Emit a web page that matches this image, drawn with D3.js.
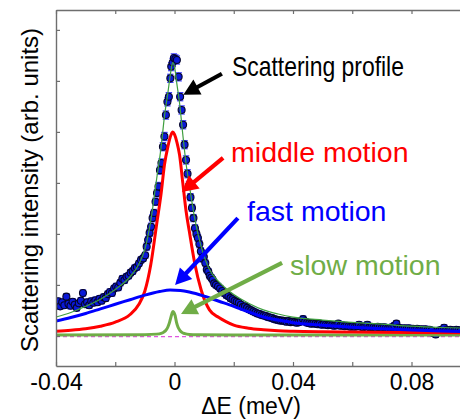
<!DOCTYPE html>
<html><head><meta charset="utf-8">
<script src="https://cdn.jsdelivr.net/npm/d3@7"></script>
<style>body{margin:0;background:#fff}svg{display:block;font-family:Arial,"Liberation Sans",sans-serif}</style>
</head><body><svg id="c" width="460" height="420"></svg>
<script>
// ---- tick definitions ----
const xTickValues = [-0.04, -0.02, 0, 0.02, 0.04, 0.06, 0.08, 0.1];
const xLabelTicks = [-0.04, 0, 0.04, 0.08];
const xLabelTexts = ["-0.04", "0", "0.04", "0.08"];
const yTickValues = [0, 1, 2, 3, 4, 5, 6];

// ---- measured scattering profile: [ΔE (meV), intensity, error] ----
const profile = [
[-0.0400,0.62,0.06],[-0.0393,0.68,0.06],[-0.0386,0.58,0.06],[-0.0379,0.66,0.06],[-0.0372,0.60,0.06],
[-0.0365,0.77,0.06],[-0.0358,0.63,0.06],[-0.0351,0.59,0.06],[-0.0344,0.67,0.06],[-0.0337,0.61,0.06],
[-0.0330,0.55,0.06],[-0.0323,0.64,0.06],[-0.0316,0.69,0.06],[-0.0309,0.84,0.06],[-0.0302,0.62,0.06],
[-0.0295,0.66,0.06],[-0.0288,0.60,0.06],[-0.0281,0.68,0.06],[-0.0274,0.65,0.06],[-0.0267,0.70,0.06],
[-0.0260,0.66,0.06],[-0.0253,0.73,0.06],[-0.0246,0.69,0.06],[-0.0239,0.76,0.06],[-0.0232,0.74,0.06],
[-0.0225,0.82,0.06],[-0.0218,0.86,0.06],[-0.0211,0.84,0.06],[-0.0204,0.93,0.06],[-0.0197,0.97,0.06],
[-0.0190,0.95,0.06],[-0.0183,1.04,0.06],[-0.0176,1.12,0.06],[-0.0169,1.09,0.06],[-0.0162,1.16,0.06],
[-0.0155,1.18,0.06],[-0.0148,1.24,0.06],[-0.0141,1.27,0.06],[-0.0134,1.33,0.06],[-0.0127,1.35,0.06],
[-0.0120,1.42,0.06],[-0.0113,1.49,0.06],[-0.0106,1.52,0.06],[-0.0099,1.58,0.06],[-0.0094,1.75,0.07],
[-0.0089,1.88,0.07],[-0.0084,2.02,0.07],[-0.0079,2.14,0.07],[-0.0074,2.31,0.07],[-0.0069,2.41,0.07],
[-0.0064,2.63,0.07],[-0.0059,2.80,0.07],[-0.0054,2.93,0.08],[-0.0049,3.25,0.08],[-0.0044,3.39,0.08],
[-0.0039,3.71,0.08],[-0.0034,3.91,0.08],[-0.0029,4.33,0.08],[-0.0024,4.59,0.08],[-0.0019,4.69,0.08],
[-0.0014,5.05,0.08],[-0.0011,5.28,0.08],[-0.0006,5.36,0.08],[-0.0002,5.45,0.08],[0.0003,5.43,0.08],
[0.0008,5.41,0.08],[0.0014,5.08,0.08],[0.0019,4.69,0.08],[0.0024,4.43,0.08],[0.0029,4.14,0.08],
[0.0034,3.75,0.08],[0.0039,3.45,0.08],[0.0044,3.18,0.08],[0.0049,2.95,0.08],[0.0054,2.72,0.07],
[0.0059,2.51,0.07],[0.0064,2.31,0.07],[0.0069,2.11,0.07],[0.0074,2.00,0.07],[0.0079,1.92,0.07],
[0.0084,1.80,0.07],[0.0089,1.66,0.07],[0.0094,1.52,0.07],[0.0099,1.55,0.07],[0.0104,1.43,0.06],
[0.0109,1.30,0.06],[0.0114,1.26,0.06],[0.0119,1.18,0.06],[0.0124,1.14,0.06],[0.0129,1.10,0.06],
[0.0134,1.03,0.06],[0.0140,1.00,0.06],[0.0147,0.97,0.06],[0.0154,0.93,0.06],[0.0161,0.88,0.06],
[0.0168,0.84,0.06],[0.0175,0.80,0.06],[0.0182,0.78,0.06],[0.0189,0.74,0.06],[0.0196,0.72,0.06],
[0.0203,0.69,0.06],[0.0210,0.67,0.06],[0.0217,0.65,0.06],[0.0224,0.61,0.06],[0.0231,0.57,0.06],
[0.0238,0.58,0.06],[0.0245,0.55,0.06],[0.0252,0.52,0.06],[0.0259,0.50,0.06],[0.0266,0.48,0.06],
[0.0273,0.46,0.06],[0.0280,0.44,0.06],[0.0287,0.43,0.06],[0.0294,0.41,0.06],[0.0301,0.40,0.06],
[0.0308,0.39,0.06],[0.0315,0.37,0.06],[0.0322,0.36,0.06],[0.0329,0.35,0.06],[0.0336,0.33,0.06],
[0.0343,0.32,0.06],[0.0350,0.31,0.06],[0.0357,0.30,0.06],[0.0364,0.30,0.06],[0.0371,0.29,0.06],
[0.0378,0.28,0.06],[0.0385,0.29,0.06],[0.0392,0.27,0.06],[0.0399,0.28,0.06],[0.0406,0.27,0.06],
[0.0413,0.26,0.06],[0.0420,0.27,0.06],[0.0427,0.29,0.06],[0.0434,0.33,0.06],[0.0441,0.28,0.06],
[0.0448,0.26,0.06],[0.0455,0.25,0.06],[0.0462,0.24,0.06],[0.0469,0.25,0.06],[0.0476,0.24,0.06],
[0.0483,0.23,0.06],[0.0490,0.24,0.06],[0.0497,0.22,0.06],[0.0504,0.23,0.06],[0.0511,0.22,0.06],
[0.0518,0.21,0.06],[0.0525,0.22,0.06],[0.0532,0.21,0.06],[0.0539,0.20,0.06],[0.0546,0.21,0.06],
[0.0553,0.24,0.06],[0.0560,0.20,0.06],[0.0567,0.21,0.06],[0.0574,0.19,0.06],[0.0581,0.20,0.06],
[0.0588,0.19,0.06],[0.0595,0.18,0.06],[0.0602,0.19,0.06],[0.0609,0.18,0.06],[0.0616,0.19,0.06],
[0.0623,0.22,0.06],[0.0630,0.18,0.06],[0.0637,0.17,0.06],[0.0644,0.19,0.06],[0.0651,0.22,0.06],
[0.0658,0.17,0.06],[0.0665,0.18,0.06],[0.0672,0.17,0.06],[0.0679,0.16,0.06],[0.0686,0.18,0.06],
[0.0693,0.17,0.06],[0.0700,0.16,0.06],[0.0707,0.17,0.06],[0.0714,0.16,0.06],[0.0721,0.15,0.06],
[0.0728,0.16,0.06],[0.0735,0.17,0.06],[0.0742,0.20,0.06],[0.0749,0.24,0.06],[0.0756,0.16,0.06],
[0.0763,0.15,0.06],[0.0770,0.14,0.06],[0.0777,0.15,0.06],[0.0784,0.14,0.06],[0.0791,0.15,0.06],
[0.0798,0.13,0.06],[0.0805,0.14,0.06],[0.0812,0.13,0.06],[0.0819,0.14,0.06],[0.0826,0.12,0.06],
[0.0833,0.13,0.06],[0.0840,0.12,0.06],[0.0847,0.13,0.06],[0.0854,0.11,0.06],[0.0861,0.12,0.06],
[0.0868,0.10,0.06],[0.0875,0.05,0.06],[0.0882,0.03,0.06],[0.0889,0.08,0.06],[0.0896,0.11,0.06],
[0.0903,0.12,0.06],[0.0910,0.16,0.06],[0.0917,0.11,0.06],[0.0924,0.10,0.06],[0.0931,0.12,0.06],
[0.0938,0.11,0.06],[0.0945,0.10,0.06],[0.0952,0.12,0.06],[0.0959,0.11,0.06],[0.0966,0.10,0.06]
];

// ---- total fit (thin green) ----
const fitE = [-0.04,-0.035,-0.03,-0.025,-0.02,-0.015,-0.012,-0.01,-0.008,-0.006,-0.0045,-0.0034,-0.0022,-0.0012,-0.0006,0,0.0008,0.0017,0.0028,0.0039,0.005,0.0068,0.009,0.0118,0.015,0.0174,0.02,0.025,0.03,0.035,0.04,0.05,0.06,0.07,0.08,0.09,0.1];
const fitI = [0.37,0.46,0.58,0.72,0.91,1.16,1.41,1.70,2.26,3.09,3.71,4.30,4.78,5.20,5.36,5.28,4.94,4.57,3.95,3.38,2.96,2.31,1.75,1.30,1.06,0.93,0.81,0.64,0.51,0.43,0.37,0.31,0.265,0.23,0.19,0.165,0.15];

// ---- middle motion (red) ----
const midE = [-0.04,-0.035,-0.03,-0.025,-0.02,-0.015,-0.012,-0.01,-0.008,-0.006,-0.0045,-0.0034,-0.0022,-0.0012,-0.0006,0,0.0008,0.0017,0.0028,0.0039,0.005,0.0068,0.009,0.0118,0.015,0.0174,0.02,0.025,0.03,0.035,0.04,0.05,0.06,0.08,0.1];
const midI = [0.09,0.11,0.14,0.19,0.27,0.42,0.62,0.88,1.40,2.20,2.80,3.35,3.72,3.94,4.00,3.95,3.80,3.55,3.00,2.45,2.05,1.43,0.90,0.51,0.36,0.28,0.21,0.15,0.12,0.10,0.09,0.08,0.075,0.065,0.06];

// ---- fast motion (blue) ----
const fastE = [-0.04,-0.035,-0.03,-0.025,-0.02,-0.015,-0.01,-0.005,-0.0015,0.002,0.005,0.01,0.015,0.02,0.025,0.03,0.035,0.04,0.05,0.06,0.07,0.08,0.09,0.1];
const fastI = [0.29,0.36,0.44,0.53,0.62,0.71,0.80,0.87,0.90,0.89,0.86,0.78,0.68,0.58,0.47,0.37,0.31,0.26,0.21,0.17,0.14,0.115,0.095,0.08];

// ---- slow motion (green) ----
const slowE = [-0.04,-0.01,-0.006,-0.0045,-0.0035,-0.0028,-0.0022,-0.0017,-0.0012,-0.0008,-0.0005,-0.0002,0.0002,0.0007,0.0012,0.0018,0.0025,0.0035,0.005,0.008,0.02,0.1];
const slowI = [0.02,0.025,0.035,0.05,0.08,0.12,0.18,0.26,0.37,0.45,0.48,0.46,0.40,0.26,0.17,0.11,0.07,0.045,0.03,0.025,0.02,0.02];

// ---- background (magenta dashed) ----
const bgE = [-0.04, 0.1];
const bgI = [-0.015, -0.015];

// ---- annotations (data units) ----
const labels = [
  {text:"Scattering profile", E:0.0194, I:5.10, color:"#000000", tail:[0.0160,5.14], tip:[0.0030,4.73], fit:172},
  {text:"middle motion", E:0.0191, I:3.41, color:"#ff0000", tail:[0.0164,3.49], tip:[0.0025,2.82]},
  {text:"fast motion", E:0.0245, I:2.25, color:"#0000ff", tail:[0.0214,2.31], tip:[0.0002,1.00]},
  {text:"slow motion", E:0.0390, I:1.20, color:"#70ad47", tail:[0.0363,1.43], tip:[0.0022,0.43]}
];

const svg = d3.select("#c");
const x = d3.scaleLinear().domain([-0.04, 0.1]).range([56, 470.75]);
const y = d3.scaleLinear().domain([-0.59, 6.39]).range([366, 10]);

svg.append("clipPath").attr("id","clip").append("rect")
  .attr("x",56).attr("y",10).attr("width",415).attr("height",356);
const plot = svg.append("g").attr("clip-path","url(#clip)");

const line = (E, I) => d3.line().x((d,i)=>x(E[i])).y((d,i)=>y(I[i])).curve(d3.curveMonotoneX)(E);

// background
plot.append("path").attr("d", line(bgE,bgI)).attr("fill","none")
  .attr("stroke","#e055e0").attr("stroke-width",1.3).attr("stroke-dasharray","4,3");

// data error bars and points
const pts = plot.append("g");
pts.selectAll("g.eb").data(profile).join("g").attr("class","eb").each(function(d){
  const g = d3.select(this), cx = x(d[0]);
  g.append("line").attr("x1",cx).attr("x2",cx).attr("y1",y(d[1]-d[2])).attr("y2",y(d[1]+d[2]));
  g.append("line").attr("x1",cx-3.2).attr("x2",cx+3.2).attr("y1",y(d[1]-d[2])).attr("y2",y(d[1]-d[2]));
  g.append("line").attr("x1",cx-3.2).attr("x2",cx+3.2).attr("y1",y(d[1]+d[2])).attr("y2",y(d[1]+d[2]));
}).attr("stroke","#4040ff").attr("stroke-width",1.2);
pts.selectAll("circle").data(profile).join("circle")
  .attr("cx",d=>x(d[0])).attr("cy",d=>y(d[1])).attr("r",3.5)
  .attr("fill","#0a18d8").attr("stroke","#05052a").attr("stroke-width",1.1);

// component curves
plot.append("path").attr("d", line(slowE,slowI)).attr("fill","none").attr("stroke","#70ad47").attr("stroke-width",3);
plot.append("path").attr("d", line(midE,midI)).attr("fill","none").attr("stroke","#ff0000").attr("stroke-width",3);
plot.append("path").attr("d", line(fastE,fastI)).attr("fill","none").attr("stroke","#0000ff").attr("stroke-width",3);
plot.append("path").attr("d", line(fitE,fitI)).attr("fill","none").attr("stroke","#3f9f3f").attr("stroke-width",1.2);

// axes
const axisColor = "#6e6e6e";
const gb = svg.append("g").attr("transform","translate(0,366)")
  .call(d3.axisBottom(x).tickValues(xTickValues).tickSize(-4).tickSizeOuter(0)
    .tickFormat(d => { const k = xLabelTicks.indexOf(d); return k >= 0 ? xLabelTexts[k] : ""; }));
const gt = svg.append("g").attr("transform","translate(0,10)")
  .call(d3.axisTop(x).tickValues(xTickValues).tickSize(-4).tickSizeOuter(0).tickFormat(""));
const gl = svg.append("g").attr("transform","translate(56,0)")
  .call(d3.axisLeft(y).tickValues(yTickValues).tickSize(-4).tickSizeOuter(0).tickFormat(""));
[gb,gt,gl].forEach(g => {
  g.selectAll("path.domain").attr("stroke",axisColor).attr("stroke-width",1.4);
  g.selectAll(".tick line").attr("stroke",axisColor).attr("stroke-width",1.2);
});
gb.selectAll(".tick text").attr("y",24).attr("dy",0)
  .attr("fill","#000").style("font-size","23px").style("font-family","Arial, 'Liberation Sans', sans-serif");

// axis titles
svg.append("text").attr("x",251).attr("y",414).attr("text-anchor","middle")
  .style("font-size","23px").attr("fill","#000").text("ΔE (meV)");
svg.append("text").attr("transform","translate(38,190) rotate(-90)").attr("text-anchor","middle")
  .style("font-size","24px").attr("fill","#000").text("Scattering intensity (arb. units)");

// annotations
labels.forEach(L => {
  const t = svg.append("text").attr("x",x(L.E)).attr("y",y(L.I)).attr("fill",L.color)
    .style("font-size","28.5px").text(L.text);
  if (L.fit) t.attr("textLength",L.fit).attr("lengthAdjust","spacingAndGlyphs");
  const x1 = x(L.tail[0]), y1 = y(L.tail[1]), x2 = x(L.tip[0]), y2 = y(L.tip[1]);
  const dx = x2-x1, dy = y2-y1, len = Math.hypot(dx,dy), ux = dx/len, uy = dy/len;
  const hl = 16, hw = 8.5;
  const bx = x2-ux*hl, by = y2-uy*hl;
  svg.append("line").attr("x1",x1).attr("y1",y1).attr("x2",bx+ux*2).attr("y2",by+uy*2)
    .attr("stroke",L.color).attr("stroke-width",4.2);
  svg.append("path").attr("d",`M${x2},${y2}L${bx-uy*hw},${by+ux*hw}L${bx+uy*hw},${by-ux*hw}Z`)
    .attr("fill",L.color);
});
</script></body></html>
